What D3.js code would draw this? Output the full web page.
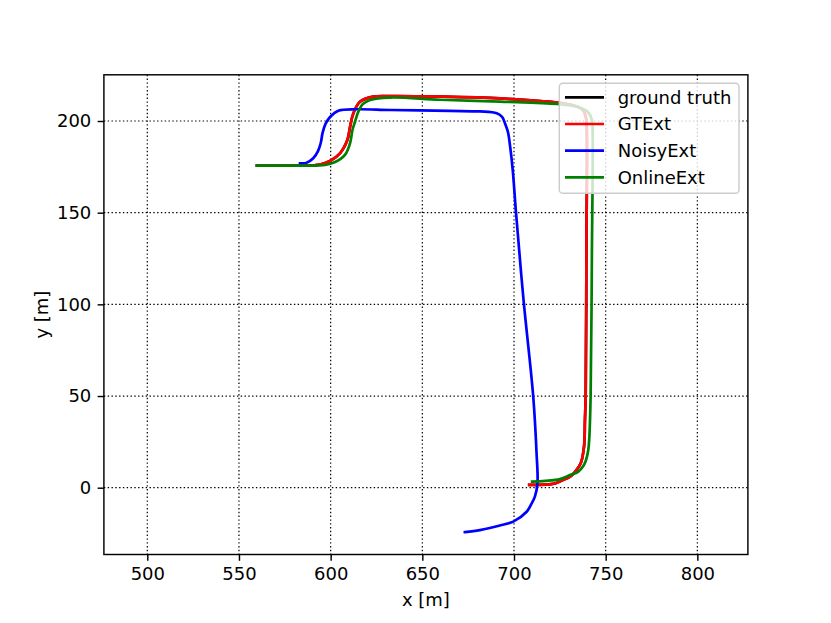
<!DOCTYPE html>
<html><head><meta charset="utf-8">
<script src="https://cdn.jsdelivr.net/npm/d3@7"></script>
<style>body{margin:0;background:#fff}svg{display:block;font-family:"DejaVu Sans",sans-serif}</style>
</head><body><svg id="c" width="831" height="623"></svg>
<script>
const xTicks = [500, 550, 600, 650, 700, 750, 800];
const yTicks = [0, 50, 100, 150, 200];
const seriesNames = ["ground truth", "GTExt", "NoisyExt", "OnlineExt"];
const seriesColors = ["#000000", "#ff0000", "#0000ff", "#008000"];

const gtExtX = [559.8,583.3,594.2,599.6,605.1,609.1,610.6,612.4,616.0,623.3,632.4,659.6,692.4,723.5,733.3,737.6,739.3,739.7,739.5,739.1,738.7,738.2,736.4,733.3,730.6,726.7,722.4,708.3];
const gtExtY = [175.7,175.7,176.3,178.2,182.4,189.6,196.9,204.2,210.5,213.3,213.6,213.3,212.3,210.0,208.2,206.0,201.6,195.1,129.6,50.6,36.9,22.4,13.3,8.6,6.0,4.2,2.3,1.5];
const groundTruthX = gtExtX.slice();
const groundTruthY = gtExtY.slice();
const noisyX = [583.3,586.6,590.5,593.1,594.6,595.6,597.2,599.8,604.2,614.2,632.4,665.1,681.5,690.6,693.5,695.1,696.7,697.9,699.3,701.1,705.2,710.5,712.3,712.8,711.4,709.2,706.9,699.6,692.3,681.4,673.2];
const noisyY = [176.9,177.1,179.7,183.6,188.0,193.5,198.4,202.3,205.6,206.4,206.0,205.5,205.2,204.2,202.2,198.7,194.0,186.0,173.3,150.0,102.4,49.6,18.9,2.6,-4.9,-9.4,-13.1,-18.5,-20.6,-23.1,-24.2];
const onlineX = [559.8,583.3,596.9,602.4,607.8,610.6,611.9,613.3,615.1,617.6,621.5,632.4,659.6,692.4,723.5,734.9,740.3,742.5,742.9,742.5,741.8,741.0,740.5,739.3,737.8,734.9,730.6,725.1,716.9,709.9];
const onlineY = [175.7,175.7,176.0,177.6,181.5,188.0,195.1,199.6,205.1,209.3,211.5,212.8,211.6,210.6,209.3,207.6,204.9,200.5,192.4,129.6,50.6,26.0,20.6,15.1,11.8,8.6,6.9,4.7,3.7,3.3];

const svg = d3.select("#c");
const L = 103.9, R = 747.9, T = 74.8, B = 554.5;
const x = d3.scaleLinear().domain([476.33, 827.57]).range([L, R]);
const y = d3.scaleLinear().domain([-36.43, 225.2]).range([B, T]);

// grid
const grid = svg.append("g");
xTicks.forEach(v => grid.append("line").attr("x1", x(v)).attr("x2", x(v)).attr("y1", T).attr("y2", B));
yTicks.forEach(v => grid.append("line").attr("y1", y(v)).attr("y2", y(v)).attr("x1", L).attr("x2", R));
grid.selectAll("line").attr("stroke", "#000").attr("stroke-width", 1.2).attr("stroke-dasharray", "1.4,2.4");

svg.append("clipPath").attr("id", "pa").append("rect").attr("x", L).attr("y", T).attr("width", R - L).attr("height", B - T);

const line = d3.line().x(d => x(d[0])).y(d => y(d[1])).curve(d3.curveCatmullRom.alpha(0.5));
const zip = (a, b) => a.map((v, i) => [v, b[i]]);
const series = [zip(groundTruthX, groundTruthY), zip(gtExtX, gtExtY), zip(noisyX, noisyY), zip(onlineX, onlineY)];
const pg = svg.append("g").attr("clip-path", "url(#pa)");
series.forEach((s, i) => pg.append("path").attr("d", line(s)).attr("fill", "none")
  .attr("stroke", seriesColors[i]).attr("stroke-width", 2.7).attr("stroke-linejoin", "round").attr("stroke-linecap", "square"));

// axes
const xa = svg.append("g").attr("transform", `translate(0,${B})`).call(d3.axisBottom(x).tickValues(xTicks).tickSize(6.3).tickPadding(6.3));
const ya = svg.append("g").attr("transform", `translate(${L},0)`).call(d3.axisLeft(y).tickValues(yTicks).tickSize(6.3).tickPadding(6.3));
[xa, ya].forEach(a => {
  a.select(".domain").remove();
  a.selectAll("line").attr("stroke", "#000").attr("stroke-width", 1.44);
  a.selectAll("text").attr("font-size", 18).attr("fill", "#000").attr("font-family", "DejaVu Sans");
});
svg.append("rect").attr("x", L).attr("y", T).attr("width", R - L).attr("height", B - T)
  .attr("fill", "none").attr("stroke", "#000").attr("stroke-width", 1.44);

svg.append("text").attr("x", (L + R) / 2).attr("y", 606).attr("text-anchor", "middle").attr("font-size", 18).text("x [m]");
svg.append("text").attr("transform", `translate(48,${(T + B) / 2}) rotate(-90)`).attr("text-anchor", "middle").attr("font-size", 18).text("y [m]");

// legend
const lg = svg.append("g");
lg.append("rect").attr("x", 559.3).attr("y", 83.3).attr("width", 179.7).attr("height", 110).attr("rx", 3.6)
  .attr("fill", "#fff").attr("fill-opacity", 0.8).attr("stroke", "#cccccc").attr("stroke-width", 1.44);
const rowY = [97.3, 124, 150.7, 177.3];
seriesNames.forEach((n, i) => {
  lg.append("line").attr("x1", 565).attr("x2", 604).attr("y1", rowY[i]).attr("y2", rowY[i])
    .attr("stroke", seriesColors[i]).attr("stroke-width", 2.7);
  lg.append("text").attr("x", 617.7).attr("y", rowY[i]).attr("dy", "0.35em").attr("font-size", 18).text(n);
});
</script></body></html>
